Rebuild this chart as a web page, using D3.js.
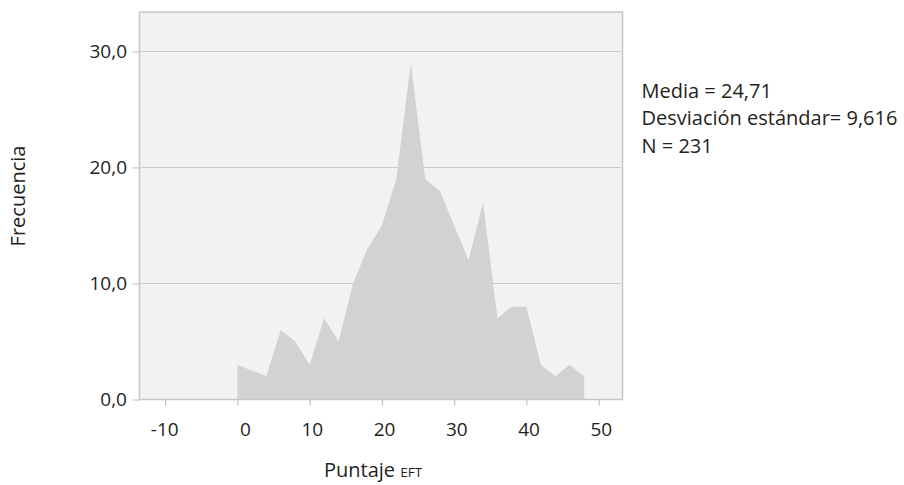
<!DOCTYPE html>
<html>
<head>
<meta charset="utf-8">
<script src="https://cdn.jsdelivr.net/npm/d3@7"></script>
<style>
  body { margin: 0; background: #fff; }
  svg text { font-family: "Open Sans", sans-serif; fill: #231f20; }
</style>
</head>
<body>
<div id="chart"></div>
<script>
// Puntaje EFT (x) and frequency of each score
const scores = [0, 4, 6, 8, 10, 12, 14, 16, 18, 20, 22, 24, 26, 28, 30, 32, 34, 36, 38, 40, 42, 44, 46, 48];
const freqs  = [3, 2, 6, 5, 3, 7, 5, 10, 13, 15, 19, 29, 19, 18, 15, 12, 17, 7, 8, 8, 3, 2, 3, 2];
const xTicks = [-10, 0, 10, 20, 30, 40, 50];
const yTicks = [0, 10, 20, 30];
const stats = ["Media = 24,71", "Desviación estándar= 9,616", "N = 231"];

const w = 904, h = 485;
const plotL = 139.5, plotR = 622.5, plotT = 12, plotB = 399.5;

const data = scores.map((s, i) => ({ x: s, y: freqs[i] }));

const xScale = d3.scaleLinear().domain([-13.55, 53.3]).range([plotL, plotR]);
const yScale = d3.scaleLinear().domain([0, 33.4]).range([plotB, plotT]);

const svg = d3.select("#chart").append("svg")
  .attr("width", w)
  .attr("height", h);

// plot background
svg.append("rect")
  .attr("x", plotL).attr("y", plotT)
  .attr("width", plotR - plotL).attr("height", plotB - plotT)
  .attr("fill", "#f1f2f4");

// gridlines
svg.selectAll(".grid")
  .data(yTicks.filter(d => d > 0))
  .enter().append("line")
  .attr("x1", plotL).attr("x2", plotR - 2)
  .attr("y1", d => yScale(d)).attr("y2", d => yScale(d))
  .attr("stroke", "#c8c9cb")
  .attr("stroke-width", 1);

// area
const area = d3.area()
  .x(d => xScale(d.x))
  .y0(yScale(0))
  .y1(d => yScale(d.y));

svg.append("path")
  .datum(data)
  .attr("d", area)
  .attr("fill", "#d1d2d4");

// frame
svg.append("rect")
  .attr("x", plotL).attr("y", plotT)
  .attr("width", plotR - plotL).attr("height", plotB - plotT)
  .attr("fill", "none")
  .attr("stroke", "#c6c7c9")
  .attr("stroke-width", 1.5);

const fmt = d => d.toFixed(1).replace(".", ",");

const yAxis = d3.axisLeft(yScale).tickValues(yTicks).tickSize(7).tickPadding(5.5).tickFormat(fmt);
const gy = svg.append("g").attr("transform", `translate(${plotL},0)`).call(yAxis);
gy.select(".domain").remove();
gy.selectAll("line").attr("stroke", "#b9babc");
gy.selectAll("text").style("font-size", "19px").attr("fill", "#231f20");

const xAxis = d3.axisBottom(xScale).tickValues(xTicks).tickSize(6).tickFormat(d => d);
const gx = svg.append("g").attr("transform", `translate(0,${plotB})`).call(xAxis);
gx.select(".domain").remove();
gx.selectAll("line").attr("stroke", "#b9babc");
gx.selectAll("text")
  .style("font-size", "19px")
  .attr("fill", "#231f20")
  .attr("text-anchor", "end")
  .attr("x", 13)
  .attr("y", 36.5)
  .attr("dy", 0);

// axis titles
svg.append("text")
  .attr("transform", "translate(25,196) rotate(-90)")
  .attr("text-anchor", "middle")
  .style("font-size", "20px")
  .text("Frecuencia");

const xt = svg.append("text")
  .attr("x", 324)
  .attr("y", 476.5)
  .style("font-size", "20px");
xt.append("tspan").text("Puntaje ");
xt.append("tspan").style("font-size", "13.5px").text("EFT");

// summary statistics
svg.selectAll(".stat")
  .data(stats)
  .enter().append("text")
  .attr("x", 641.5)
  .attr("y", (d, i) => 97.5 + i * 27.5)
  .style("font-size", "20px")
  .text(d => d);
</script>
</body>
</html>
